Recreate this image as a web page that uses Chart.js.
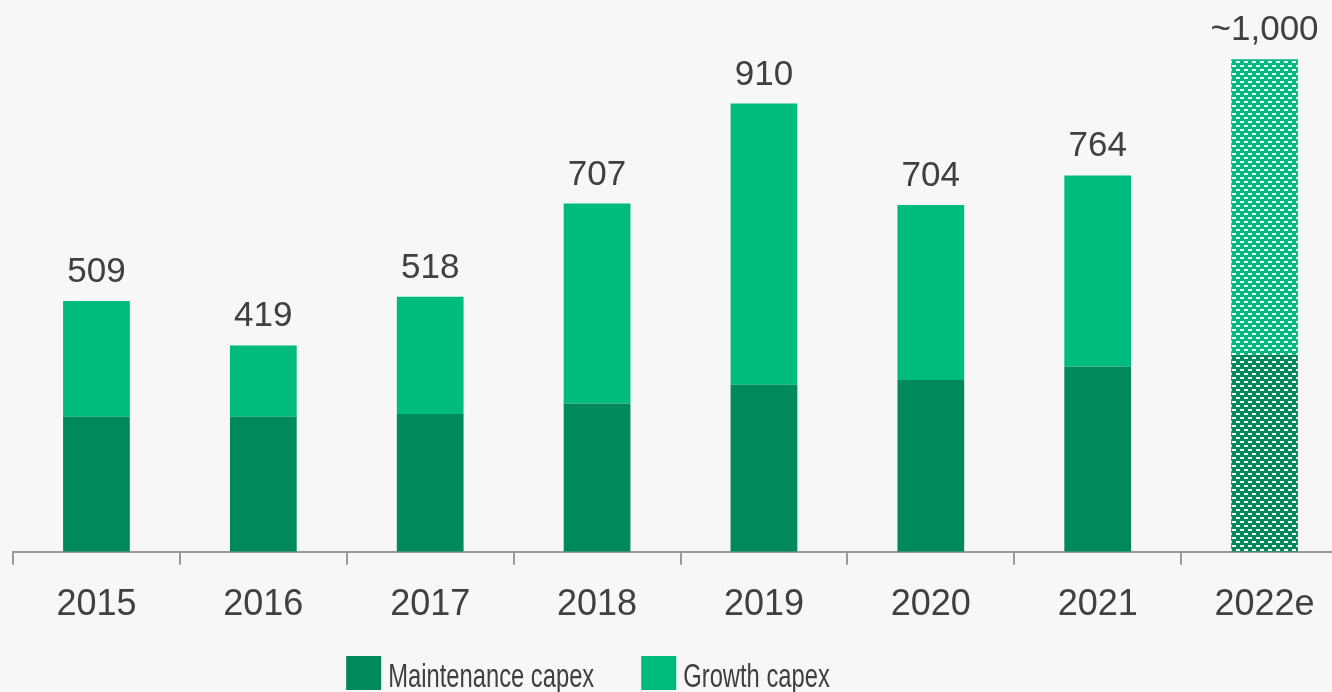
<!DOCTYPE html>
<html>
<head>
<meta charset="utf-8">
<script src="https://cdn.jsdelivr.net/npm/chart.js@4.4.1/dist/chart.umd.min.js"></script>
<style>
  html, body { margin: 0; padding: 0; background: #f7f7f7; overflow: hidden; }
  #wrap { position: relative; width: 1348px; height: 692px; }
</style>
</head>
<body>
<div id="wrap"><canvas id="capexChart"></canvas></div>
<script>
const years = ['2015', '2016', '2017', '2018', '2019', '2020', '2021', '2022e'];
const maintenanceCapex = [274, 274, 280, 301, 339, 349, 376, 400];
const growthCapex = [235, 145, 238, 406, 571, 355, 388, 600];
const estimateYears = ['2022e'];

const darkGreen = '#00895b';
const lightGreen = '#00bb7e';
const textColor = '#404040';

// dashed fill for the forecast bar
function dashPattern(base) {
    const tile = document.createElement('canvas');
    tile.width = 8;
    tile.height = 8;
    const t = tile.getContext('2d');
    t.fillStyle = base;
    t.fillRect(0, 0, 8, 8);
    t.fillStyle = 'rgba(255,255,255,0.95)';
    t.fillRect(0, 1, 4, 2);
    t.fillRect(4, 5, 4, 2);
    return t.createPattern(tile, 'repeat');
}

function barColors(base) {
    const pat = dashPattern(base);
    return years.map(y => estimateYears.includes(y) ? pat : base);
}

const totals = years.map((y, i) => maintenanceCapex[i] + growthCapex[i]);

// totals written above each stack
const totalLabels = {
    id: 'totalLabels',
    afterDatasetsDraw(chart) {
        const ctx = chart.ctx;
        const top = chart.getDatasetMeta(1).data;
        ctx.save();
        ctx.font = '35px "Liberation Sans", Arial, sans-serif';
        ctx.fillStyle = textColor;
        ctx.textAlign = 'center';
        ctx.textBaseline = 'alphabetic';
        top.forEach((bar, i) => {
            let txt = totals[i].toLocaleString('en-US');
            if (estimateYears.includes(years[i])) txt = '~' + txt;
            ctx.fillText(txt, bar.x, bar.y - 19);
        });
        ctx.restore();
    }
};

// legend row under the axis, text squeezed horizontally
const bottomLegend = {
    id: 'bottomLegend',
    afterDraw(chart) {
        const ctx = chart.ctx;
        const items = chart.data.datasets.map(ds => ({ text: ds.label, color: ds.legendColor }));
        const box = 35, boxH = 34, gap = 7, itemGap = 47, squeeze = 0.72;
        ctx.save();
        ctx.font = '33px "Liberation Sans", Arial, sans-serif';
        let total = 0;
        items.forEach((it, i) => {
            it.w = ctx.measureText(it.text).width * squeeze;
            total += box + gap + it.w + (i ? itemGap : 0);
        });
        let x = 588 - total / 2;
        const y = 656;
        ctx.textBaseline = 'alphabetic';
        ctx.textAlign = 'left';
        items.forEach(it => {
            ctx.fillStyle = it.color;
            ctx.fillRect(x, y, box, boxH);
            ctx.save();
            ctx.translate(x + box + gap, y + 31);
            ctx.scale(squeeze, 1);
            ctx.fillStyle = textColor;
            ctx.fillText(it.text, 0, 0);
            ctx.restore();
            x += box + gap + it.w + itemGap;
        });
        ctx.restore();
    }
};

new Chart(document.getElementById('capexChart'), {
    type: 'bar',
    data: {
        labels: years,
        datasets: [
            {
                label: 'Maintenance capex',
                data: maintenanceCapex,
                backgroundColor: barColors(darkGreen),
                legendColor: darkGreen,
                borderWidth: 0
            },
            {
                label: 'Growth capex',
                data: growthCapex,
                backgroundColor: barColors(lightGreen),
                legendColor: lightGreen,
                borderWidth: 0
            }
        ]
    },
    options: {
        responsive: true,
        maintainAspectRatio: false,
        animation: false,
        layout: { padding: { top: 10, bottom: 46, left: 13, right: 0 } },
        datasets: { bar: { categoryPercentage: 1, barPercentage: 0.4 } },
        plugins: {
            legend: { display: false },
            tooltip: { enabled: false }
        },
        scales: {
            x: {
                stacked: true,
                border: { color: '#9a9a9a', width: 2 },
                grid: {
                    offset: true,
                    drawOnChartArea: false,
                    color: '#9a9a9a',
                    lineWidth: 2,
                    tickLength: 13
                },
                ticks: {
                    color: textColor,
                    padding: 19,
                    font: { family: '"Liberation Sans", Arial, sans-serif', size: 36 }
                }
            },
            y: {
                stacked: true,
                display: false,
                min: 0,
                max: 1100
            }
        }
    },
    plugins: [totalLabels, bottomLegend]
});
</script>
</body>
</html>
